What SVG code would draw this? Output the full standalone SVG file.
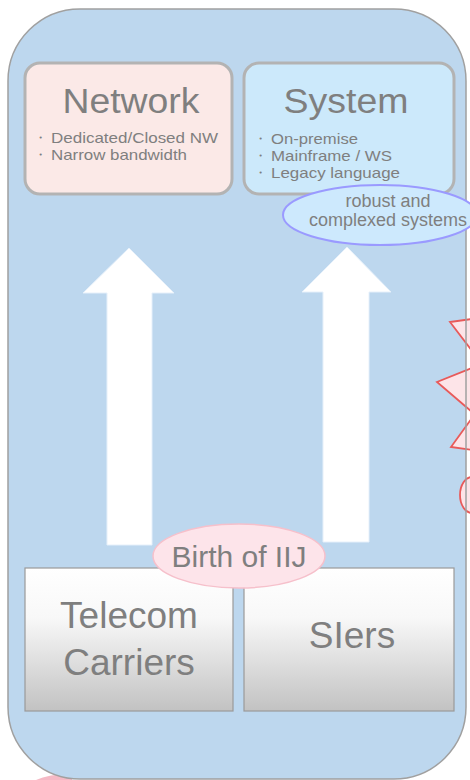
<svg xmlns="http://www.w3.org/2000/svg" width="470" height="780" viewBox="0 0 470 780">
  <style>
    text { font-family: "Liberation Sans", Arial, sans-serif; fill: #7f7f7f; }
    .title { font-size: 35px; text-anchor: middle; }
    .bullet { font-size: 15px; }
    .dot { font-size: 13px; }
    .card { stroke: #b3b3b3; stroke-width: 3; }
    .arrow { fill: #ffffff; stroke: #e6f0fa; stroke-width: 1; }
    .base { fill: url(#baseGrad); stroke: #9a9a9a; stroke-width: 1.2; }
    .big { font-size: 37px; text-anchor: middle; }
    .burst { fill: #fde4e8; stroke: #e85a5a; stroke-width: 1.8; }
  </style>
  <defs>
    <linearGradient id="baseGrad" x1="0" y1="0" x2="0" y2="1">
      <stop offset="0" stop-color="#ffffff"/>
      <stop offset="0.35" stop-color="#f8f8f8"/>
      <stop offset="1" stop-color="#c2c2c2"/>
    </linearGradient>
  </defs>

  <!-- pink shape peeking out below the frame -->
  <path d="M36,780 Q48,774 72,774 L72,780 Z" fill="#f5b9c5"/>

  <!-- frame -->
  <g id="frame">
    <rect x="8" y="9" width="458" height="770" rx="72" ry="72" fill="#bdd7ee"/>
  </g>

  <!-- starburst callout on the right edge -->
  <g id="burst">
    <path class="burst" d="M472,319 L450,322 L472,351 L472,368 L437,382 L472,412 L472,418 L451,447 L472,450 L472,477 A12,18 0 0 0 472,513 L480,513 L480,319 Z"/>
  </g>

  <!-- frame outline -->
  <rect x="8" y="9" width="458" height="770" rx="72" ry="72" fill="none" stroke="#a0a0a0" stroke-width="1.5"/>

  <g id="connectors">
    <path class="arrow" d="M107,545 L107,293 L83,293 L129,248 L174,293 L152,293 L152,545 Z"/>
    <path class="arrow" d="M323,542 L323,292 L302,292 L347,247 L391,292 L369,292 L369,542 Z"/>
  </g>

  <g id="network">
    <rect class="card" x="25" y="63" width="207" height="131" rx="15" fill="#fbe9e7"/>
    <text class="title" x="131" y="113" textLength="137" lengthAdjust="spacingAndGlyphs">Network</text>
    <text class="dot" x="34" y="142">・</text>
    <text class="bullet" x="51" y="143" textLength="167" lengthAdjust="spacingAndGlyphs">Dedicated/Closed NW</text>
    <text class="dot" x="34" y="159">・</text>
    <text class="bullet" x="51" y="160" textLength="136" lengthAdjust="spacingAndGlyphs">Narrow bandwidth</text>
  </g>

  <g id="system">
    <rect class="card" x="244" y="63" width="210" height="131" rx="15" fill="#cce9fb"/>
    <text class="title" x="346" y="113" textLength="125" lengthAdjust="spacingAndGlyphs">System</text>
    <text class="dot" x="254" y="143">・</text>
    <text class="bullet" x="271" y="144" textLength="87" lengthAdjust="spacingAndGlyphs">On-premise</text>
    <text class="dot" x="254" y="160">・</text>
    <text class="bullet" x="271" y="161" textLength="121" lengthAdjust="spacingAndGlyphs">Mainframe / WS</text>
    <text class="dot" x="254" y="177">・</text>
    <text class="bullet" x="271" y="178" textLength="129" lengthAdjust="spacingAndGlyphs">Legacy language</text>
  </g>

  <g id="robust">
    <ellipse cx="380" cy="215" rx="97" ry="30" fill="#cde9fd" stroke="#9a9aff" stroke-width="2"/>
    <text x="388" y="207" font-size="18" text-anchor="middle">robust and</text>
    <text x="388" y="226" font-size="18" text-anchor="middle">complexed systems</text>
  </g>

  <g id="telecom">
    <rect class="base" x="25" y="568" width="208" height="143"/>
    <text class="big" x="129" y="628">Telecom</text>
    <text class="big" x="129" y="675">Carriers</text>
  </g>

  <g id="siers">
    <rect class="base" x="244" y="568" width="210" height="143"/>
    <text class="big" x="352" y="648">SIers</text>
  </g>

  <g id="birth">
    <ellipse cx="239" cy="556" rx="86" ry="32" fill="#fde4ea" stroke="#f6c0cb" stroke-width="1.5"/>
    <text x="239" y="567" font-size="30" text-anchor="middle">Birth of IIJ</text>
  </g>
</svg>
